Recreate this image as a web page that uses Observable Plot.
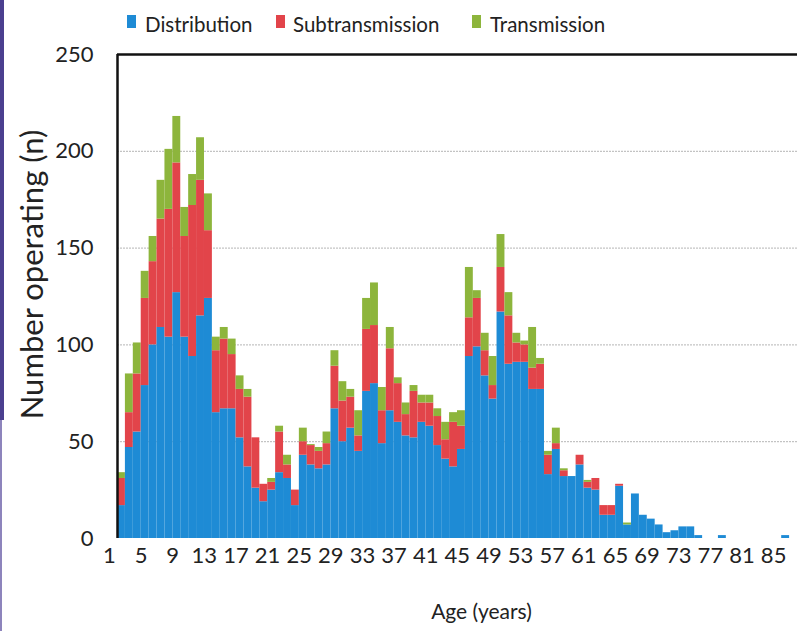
<!DOCTYPE html>
<html><head><meta charset="utf-8">
<script src="https://cdn.jsdelivr.net/npm/d3@7"></script>
<script src="https://cdn.jsdelivr.net/npm/@observablehq/plot@0.6"></script>
<style>
body{margin:0;background:#fff;}
#wrap{position:relative;width:797px;height:631px;overflow:hidden;background:#fff;font-family:Lato,sans-serif;}
#legend{position:relative;height:40px;width:797px;}
.sw{position:absolute;top:15px;width:9px;height:13px;}
.lt{position:absolute;top:12px;font-size:20.5px;line-height:24px;color:#222;white-space:nowrap;}
#edge1{position:absolute;left:0;top:0;width:4px;height:420px;background:#4b3f8f;}
#edge2{position:absolute;left:0;top:420px;width:2px;height:211px;background:#8d84bc;}
</style></head>
<body>
<div id="wrap">
  <div id="legend"></div>
  <div id="chart"></div>
  <div id="edge1"></div><div id="edge2"></div>
</div>
<script>
const ages = d3.range(1, 87);
const distribution = [17,47,55,79,100,109,104,127,104,94,115,124,65,67,67,52,37,26,19,25,34,31,17,43,38,36,38,67,50,57,45,76,80,49,66,60,53,52,60,58,48,41,37,46,94,99,84,72,117,90,91,91,77,77,33,46,32,32,38,26,25,12,12,27,7,23,12,10,7,3,4,6,6,1.5,0,0,1.5,0,0,0,0,0,0,0,1.5,0];
const subtransmission = [14,18,30,45,43,56,66,67,52,78,70,35,32,36,28,25,36,26,9,4,21,7,8,7,10,9,11,22,21,16,8,32,30,17,32,20,11,24,10,12,15,10,23,12,20,25,13,7,23,25,10,9,11,13,10,3,3,0,5,3,6,5,5,1,0,0,0,0,0,0,0,0,0,0,0,0,0,0,0,0,0,0,0,0,0,0];
const transmission = [3,20,16,14,13,20,31,24,15,16,22,19,7,6,8,7,4,0,0,2,3,5,0,7,0.5,2,6,8,10,4,13,16,22,12,11,3,6,3,4,4,4,9,5,8,26,4,9,15,17,12,5,2,21,3,2,8,1,0,0,1,0,0,0,0,1,0,0,0,0,0,0,0,0,0,0,0,0,0,0,0,0,0,0,0,0,0];
const seriesNames = ["Distribution", "Subtransmission", "Transmission"];
const seriesColors = ["#1e8bd5", "#e2444a", "#8db53c"];
const yTicks = [0, 50, 100, 150, 200, 250];
const gridValues = [50, 100, 150, 200];
const xTickLabels = d3.range(1, 87, 4);

const rows = [];
ages.forEach((a, i) => {
  rows.push({age: a, series: seriesNames[0], value: distribution[i]});
  rows.push({age: a, series: seriesNames[1], value: subtransmission[i]});
  rows.push({age: a, series: seriesNames[2], value: transmission[i]});
});

// legend
const legend = document.getElementById("legend");
const legendX = [[127, 145], [276, 293], [472, 490]];
seriesNames.forEach((n, i) => {
  const s = document.createElement("div");
  s.className = "sw"; s.style.left = legendX[i][0] + "px"; s.style.background = seriesColors[i];
  legend.appendChild(s);
  const t = document.createElement("div");
  t.className = "lt"; t.style.left = legendX[i][1] + "px"; t.textContent = n;
  legend.appendChild(t);
});

const W = 797, ML = 117, MR = 0;
const bandHalf = (W - ML - MR) / ages.length / 2;

const chart = Plot.plot({
  width: W,
  height: 591,
  marginLeft: ML,
  marginRight: MR,
  marginTop: 14,
  marginBottom: 93,
  style: {fontFamily: "Lato, sans-serif", fontSize: "22px", color: "#222", background: "#fff", overflow: "visible"},
  x: {type: "band", domain: ages, padding: 0},
  y: {domain: [0, 250]},
  color: {domain: seriesNames, range: seriesColors},
  marks: [
    Plot.ruleY(gridValues, {stroke: "#b5b5b5", strokeWidth: 1, strokeDasharray: "2,1"}),
    Plot.barY(rows, {x: "age", y: "value", fill: "series", order: seriesNames, inset: 0}),
    Plot.ruleY([250], {stroke: "#111", strokeWidth: 2.5}),
    Plot.ruleX([ages[0]], {dx: -bandHalf, y1: 0, y2: 250, stroke: "#111", strokeWidth: 2.5}),
    Plot.axisY({ticks: yTicks, tickSize: 0, tickPadding: 24, label: null, fontSize: 22}),
    Plot.axisX({ticks: xTickLabels, tickSize: 0, tickPadding: 9, dx: -12, label: null, fontSize: 22}),
    Plot.text(["Age (years)"], {frameAnchor: "bottom", dx: 24, dy: 74, fontSize: 21, fill: "#222", lineAnchor: "middle"}),
    Plot.text(["Number operating (n)"], {frameAnchor: "left", rotate: -90, dx: -84, dy: -22, fontSize: 31, fill: "#222", lineAnchor: "middle", textAnchor: "middle"})
  ]
});
document.getElementById("chart").appendChild(chart);
</script>
</body></html>
